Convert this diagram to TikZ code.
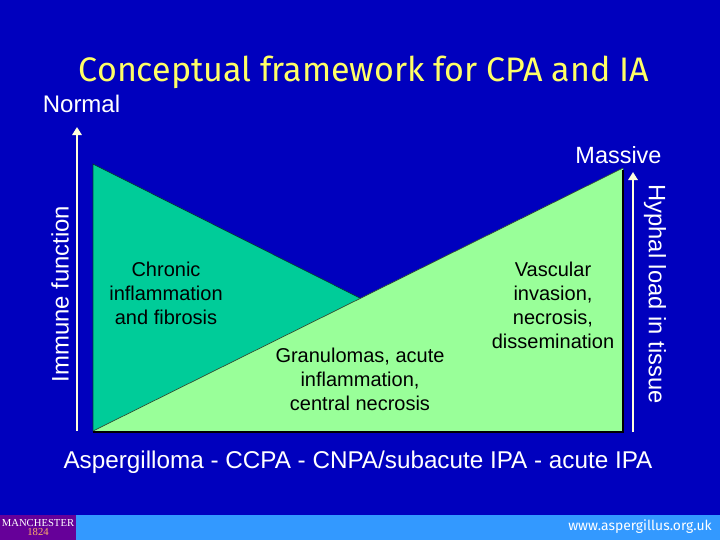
\documentclass[tikz,border=0pt]{standalone}
\usepackage{fontspec}
\setmainfont{Liberation Sans}
\newfontfamily\titlefont{Fira Sans}
\newfontfamily\logofont{Liberation Serif}
\usetikzlibrary{arrows.meta}
\definecolor{bgblue}{RGB}{0,0,190}
\definecolor{barblue}{RGB}{51,153,255}
\definecolor{darkgreen}{RGB}{0,204,153}
\definecolor{lightgreen}{RGB}{153,255,153}
\definecolor{cream}{RGB}{255,255,220}
\definecolor{titleyellow}{RGB}{255,255,102}
\definecolor{logopurple}{RGB}{102,0,153}
\tikzset{
  lbl/.style={inner sep=0pt,align=center,text=white},
  inner/.style={inner sep=0pt,align=center,font=\fontsize{15}{18}\selectfont,text=black},
  axisarrow/.style={draw=cream,line width=2.2pt,-{Triangle[length=6pt,width=7pt]}},
}
\begin{document}
\begin{tikzpicture}[x=0.75pt,y=-0.75pt]
\useasboundingbox (0,0) rectangle (720,540);
\fill[bgblue] (0,0) rectangle (720,540);
\fill[barblue] (0,515) rectangle (720,540);
\fill[logopurple] (0,515) rectangle (76,540);
\node[inner sep=0pt,text=white,align=center,font=\logofont\fontsize{8}{6.5}\selectfont] (logo) at (38,527.5) {MANCHESTER\\\textcolor{orange!60}{1824}};
\fill[darkgreen] (93,164) -- (93,431) -- (360.5,298.3) -- cycle;
\draw[black!70!darkgreen,line width=.5pt] (93,431) -- (93,164) -- (360.5,298.3);
\fill[lightgreen] (93,431) -- (623,168) -- (623,432) -- cycle;
\draw[black!70!lightgreen,line width=.5pt] (93,431) -- (623,168);
\draw[black,line width=1.2pt] (93,432) -- (623,432) -- (623,170);
\coordinate (la) at (77,431);
\coordinate (lb) at (77,127);
\coordinate (ra) at (633,432);
\coordinate (rb) at (633,172);
\draw[axisarrow] (la) -- (lb);
\draw[axisarrow] (ra) -- (rb);
\node[inner sep=0pt,text=titleyellow,font=\titlefont\fontsize{25.5}{28}\selectfont] (title) at (364,72) {Conceptual framework for CPA and IA};
\node[lbl,font=\fontsize{18}{20}\selectfont] (normal) at (81.5,104) {Normal};
\node[lbl,font=\fontsize{17.6}{20}\selectfont] (massive) at (618.5,155) {Massive};
\node[lbl,rotate=90,font=\fontsize{17.9}{20}\selectfont] (immune) at (60,294) {Immune function};
\node[lbl,rotate=-90,font=\fontsize{17.8}{20}\selectfont] (hyphal) at (655,294) {Hyphal load in tissue};
\node[inner] (chronic) at (166,293) {Chronic\\inflammation\\and fibrosis};
\node[inner] (gran) at (360,379.5) {Granulomas, acute\\inflammation,\\central necrosis};
\node[inner] (vasc) at (553,305.5) {Vascular\\invasion,\\necrosis,\\dissemination};
\node[lbl,font=\fontsize{18.2}{20}\selectfont] (xaxis) at (358,462) {Aspergilloma - CCPA - CNPA/subacute IPA - acute IPA};
\node[inner sep=0pt,text=white,font=\titlefont\fontsize{10.4}{11}\selectfont] (web) at (640,527) {www.aspergillus.org.uk};
\end{tikzpicture}
\end{document}
